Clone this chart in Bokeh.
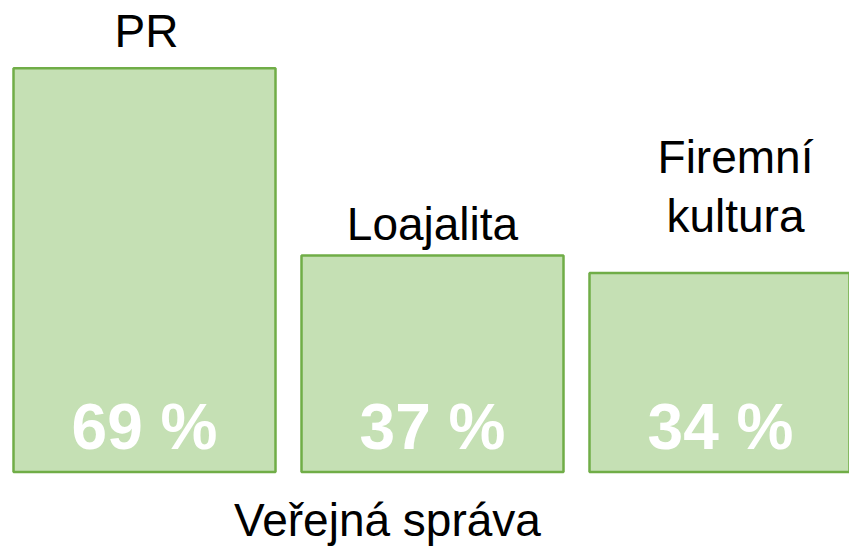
from bokeh.plotting import figure
from bokeh.models import Range1d, ColumnDataSource, Label
from bokeh.core.properties import value
from bokeh.embed import file_html
from bokeh.resources import INLINE

# --- data ---
categories = ["PR", "Loajalita", "Firemní\nkultura"]
values = [69, 37, 34]
value_labels = ["69 %", "37 %", "34 %"]
group_title = "Veřejná správa"

# --- layout (screen geometry, kept separate from data) ---
W, H = 849, 550
pitch = 288.0          # px between bar centres
first_center = 144.0   # px from left edge of frame
px_per_unit = 5.85
zero_from_top = 471.5
label_dx = [2, 0, 15]          # px horizontal nudge of category labels
label_dy = [-11, -6, -31]      # px vertical nudge of category labels (bottom anchor)

x_idx = list(range(len(categories)))
x_start = -first_center / pitch
x_end = (W - first_center) / pitch
y_top = zero_from_top / px_per_unit
y_bot = -(H - zero_from_top) / px_per_unit

p = figure(width=W, height=H, output_backend="svg", toolbar_location=None,
           x_range=Range1d(x_start, x_end), y_range=Range1d(y_bot, y_top),
           min_border=0, outline_line_color=None)
p.axis.visible = False
p.grid.visible = False
p.background_fill_color = "white"
p.border_fill_color = "white"

src = ColumnDataSource(dict(x=x_idx, top=values, cat=categories, lab=value_labels,
                            xoff=label_dx, yoff=label_dy))

p.vbar(x="x", top="top", bottom=0, width=262 / pitch, source=src,
       fill_color="#C5E0B4", line_color="#70AD47", line_width=2.5)

# value labels inside bars
p.text(x="x", y=0, text="lab", source=src, y_offset=-9,
       text_align="center", text_baseline="bottom",
       text_font=value("Liberation Sans"), text_font_style="bold",
       text_font_size="64px", text_color="white")

# category labels above bars
p.text(x="x", y="top", text="cat", source=src, y_offset="yoff", x_offset="xoff",
       text_align="center", text_baseline="bottom", text_line_height=1.13,
       text_font=value("Liberation Sans"), text_font_size="46px",
       text_color="black")

p.add_layout(Label(x=387, y=5, x_units="screen", y_units="screen",
                   text=group_title, text_align="center", text_baseline="bottom",
                   text_font="Liberation Sans", text_font_size="46px",
                   text_color="black"))

open("out.html", "w").write(file_html(p, INLINE))
